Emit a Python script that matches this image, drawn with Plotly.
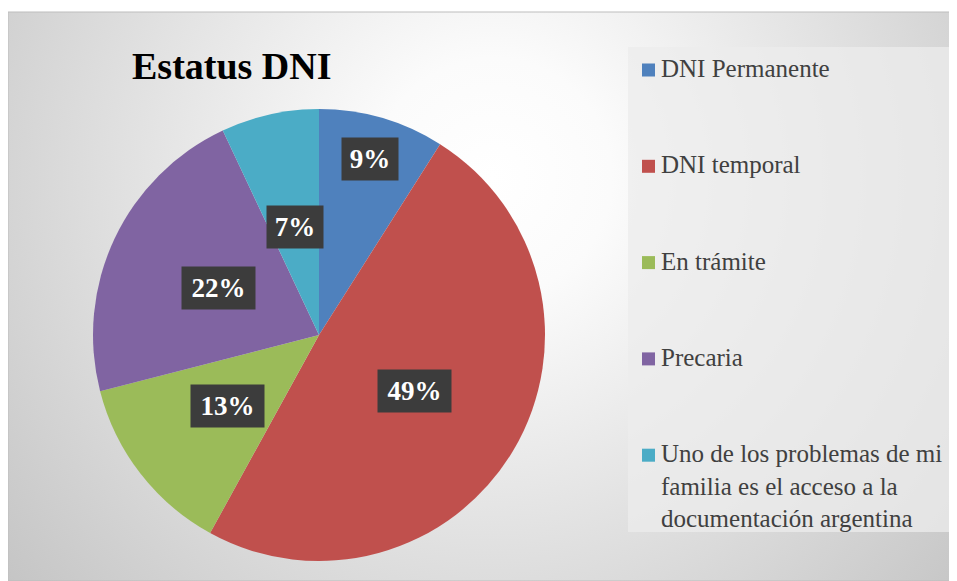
import base64
import math
import plotly.graph_objects as go

# data
labels = ["DNI Permanente", "DNI temporal", "En trámite", "Precaria",
          "Uno de los problemas de mi familia es el acceso a la documentación argentina"]
legend_text = ["DNI Permanente", "DNI temporal", "En trámite", "Precaria",
               "Uno de los problemas de mi<br>familia es el acceso a la<br>documentación argentina"]
values = [9, 49, 13, 22, 7]
colors = ["#4f81bd", "#c0504d", "#9bbb59", "#8064a2", "#4bacc6"]
label_radius = [0.81, 0.49, 0.51, 0.49, 0.49]  # where Excel put the data labels

# the page body has an 8px margin, so work in window pixels and shift
OFF = 8
W, H = 957 - OFF, 581 - OFF


def px(x):
    return (x - OFF) / W


def py(y):
    return 1 - (y - OFF) / H


# pie geometry (window pixels)
cx, cy, R = 319, 335, 226

# radial gradient chart area background as an inline svg
svg = (
    "<svg xmlns='http://www.w3.org/2000/svg' width='949' height='569'>"
    "<defs><radialGradient id='g' cx='485' cy='165' r='660' gradientUnits='userSpaceOnUse'>"
    "<stop offset='0' stop-color='#ffffff'/>"
    "<stop offset='0.18' stop-color='#fbfbfb'/>"
    "<stop offset='1' stop-color='#c2c2c2'/>"
    "</radialGradient></defs>"
    "<rect width='949' height='569' fill='url(#g)'/></svg>"
)
bg_src = "data:image/svg+xml;base64," + base64.b64encode(svg.encode()).decode()

fig = go.Figure()

fig.add_trace(go.Pie(
    labels=labels,
    values=values,
    sort=False,
    direction="clockwise",
    rotation=0,
    marker=dict(colors=colors, line=dict(width=0)),
    textinfo="none",
    hoverinfo="label+percent",
    showlegend=False,
    domain=dict(x=[px(cx - R), px(cx + R)], y=[py(cy + R), py(cy - R)]),
))

annotations = []

# data labels on dark boxes, placed at each slice's mid angle
total = sum(values)
cum = 0
for v, frac in zip(values, label_radius):
    mid = (cum + v / 2) / total * 2 * math.pi
    cum += v
    lx = cx + R * frac * math.sin(mid)
    ly = cy - R * frac * math.cos(mid)
    txt = f"{round(v / total * 100)}%"
    annotations.append(dict(
        x=px(lx), y=py(ly), xref="paper", yref="paper",
        text=f"<b>{txt}</b>", showarrow=False,
        font=dict(family="Liberation Serif", size=27, color="white"),
        bgcolor="#3c3c3c", width=len(txt) * 17 + 20, height=40,
        xanchor="center", yanchor="middle",
    ))

# title
annotations.append(dict(
    x=px(130), y=py(66), xref="paper", yref="paper",
    text="<b>Estatus DNI</b>", showarrow=False,
    font=dict(family="Liberation Serif", size=38, color="black"),
    xanchor="left", yanchor="middle",
))

shapes = [
    # chart area outline
    dict(type="rect", xref="paper", yref="paper",
         x0=px(8), x1=px(957), y0=py(581), y1=py(12),
         line=dict(color="#bdbdbd", width=1), fillcolor="rgba(0,0,0,0)", layer="below"),
    # legend box
    dict(type="rect", xref="paper", yref="paper",
         x0=px(628), x1=px(956), y0=py(532), y1=py(47),
         line=dict(width=0), fillcolor="rgba(236,236,236,0.75)", layer="below"),
]

# legend entries
for i, (txt, col) in enumerate(zip(legend_text, colors)):
    yc = 70 + 96.3 * i
    shapes.append(dict(type="rect", xref="paper", yref="paper",
                       x0=px(642), x1=px(655), y0=py(yc + 6.5), y1=py(yc - 6.5),
                       line=dict(width=0), fillcolor=col))
    annotations.append(dict(
        x=px(659), y=py(yc - 17), xref="paper", yref="paper",
        text=txt, showarrow=False, align="left",
        font=dict(family="Liberation Serif", size=25, color="#404040"),
        xanchor="left", yanchor="top",
    ))

fig.update_layout(
    width=W, height=H,
    margin=dict(l=0, r=0, t=0, b=0),
    paper_bgcolor="white",
    images=[dict(source=bg_src, xref="paper", yref="paper",
                 x=px(8), y=py(12), sizex=949 / W, sizey=569 / H,
                 sizing="stretch", layer="below", xanchor="left", yanchor="top")],
    shapes=shapes,
    annotations=annotations,
)

# keep the page from growing scrollbars (figure runs to the window edge)
fig.write_html(
    "out.html",
    post_script="document.documentElement.style.overflow='hidden';"
                "document.body.style.overflow='hidden';",
)
